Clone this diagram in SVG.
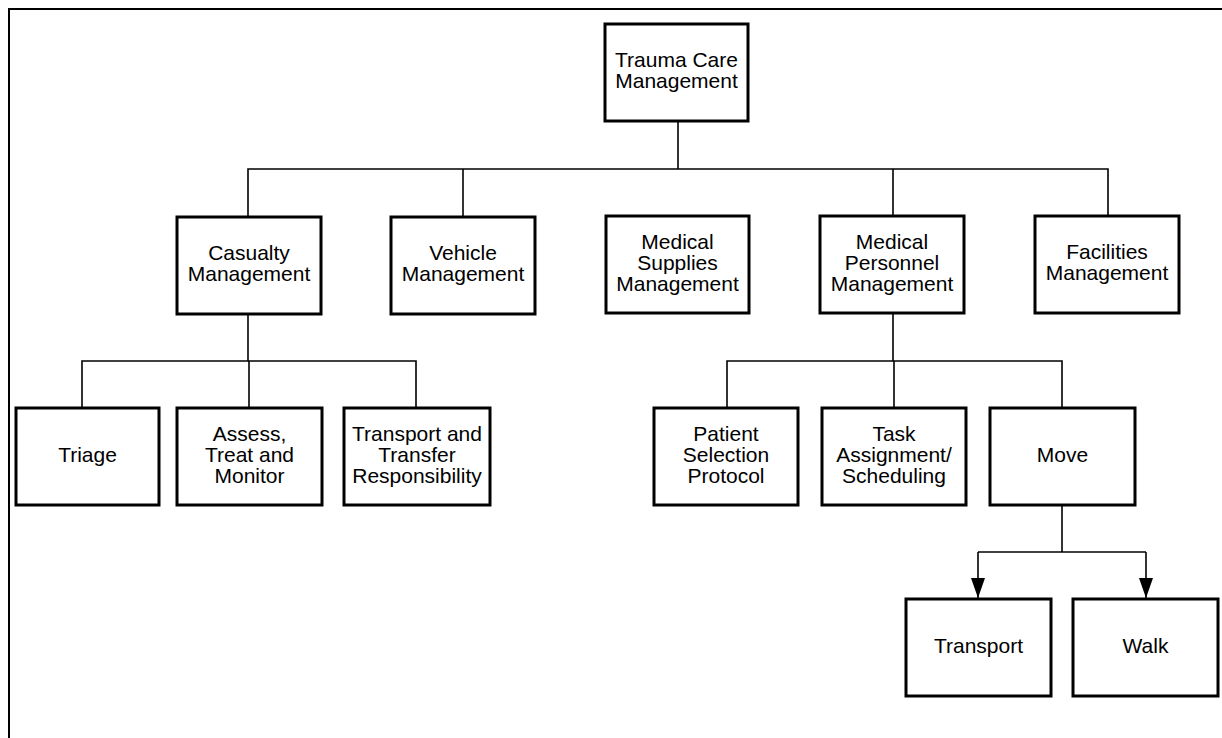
<svg xmlns="http://www.w3.org/2000/svg" width="1222" height="738" viewBox="0 0 1222 738">
<style>
.frame{fill:none;stroke:#000;stroke-width:2}
.box{fill:#fff;stroke:#000;stroke-width:3}
.conn{fill:none;stroke:#000;stroke-width:1.6}
text{font-family:"Liberation Sans",Arial,Helvetica,sans-serif;font-size:21px;fill:#000;text-anchor:middle}
</style>
<defs>
<marker id="ah" viewBox="0 0 20 14" refX="20" refY="7" markerWidth="20" markerHeight="14" orient="auto" markerUnits="userSpaceOnUse">
<path d="M0,0 L20,7 L0,14 Z" fill="#000"/>
</marker>
</defs>
<rect width="1222" height="738" fill="#fff"/>
<path class="frame" d="M9,738 V9 H1222"/>
<g id="connectors">
<path class="conn" d="M678,121 V169"/>
<path class="conn" d="M248,217 V169 H1108 V216"/>
<path class="conn" d="M463,169 V217"/>
<path class="conn" d="M893,169 V217"/>
<path class="conn" d="M248,314 V361"/>
<path class="conn" d="M82,408 V361 H416 V408"/>
<path class="conn" d="M249,361 V408"/>
<path class="conn" d="M893,313 V361"/>
<path class="conn" d="M727,408 V361 H1062 V408"/>
<path class="conn" d="M894,361 V408"/>
<path class="conn" d="M1062,505 V552"/>
<path class="conn" d="M978,552 H1146"/>
<path class="conn" d="M978,552 V598" marker-end="url(#ah)"/>
<path class="conn" d="M1146,552 V598" marker-end="url(#ah)"/>
</g>
<g id="n-trauma"><rect class="box" x="605" y="24" width="143" height="97"/><text x="676.5" y="67">Trauma Care</text><text x="676.5" y="88">Management</text></g>
<g id="n-casualty"><rect class="box" x="177" y="217" width="144" height="97"/><text x="249" y="260">Casualty</text><text x="249" y="281">Management</text></g>
<g id="n-vehicle"><rect class="box" x="391" y="217" width="144" height="97"/><text x="463" y="260">Vehicle</text><text x="463" y="281">Management</text></g>
<g id="n-supplies"><rect class="box" x="606" y="216" width="143" height="97"/><text x="677.5" y="249">Medical</text><text x="677.5" y="270">Supplies</text><text x="677.5" y="291">Management</text></g>
<g id="n-personnel"><rect class="box" x="820" y="216" width="144" height="97"/><text x="892" y="249">Medical</text><text x="892" y="270">Personnel</text><text x="892" y="291">Management</text></g>
<g id="n-facilities"><rect class="box" x="1035" y="216" width="144" height="97"/><text x="1107" y="259">Facilities</text><text x="1107" y="280">Management</text></g>
<g id="n-triage"><rect class="box" x="16" y="408" width="143" height="97"/><text x="87.5" y="462">Triage</text></g>
<g id="n-assess"><rect class="box" x="177" y="408" width="145" height="97"/><text x="249.5" y="441">Assess,</text><text x="249.5" y="462">Treat and</text><text x="249.5" y="483">Monitor</text></g>
<g id="n-transfer"><rect class="box" x="344" y="408" width="146" height="97"/><text x="417" y="441">Transport and</text><text x="417" y="462">Transfer</text><text x="417" y="483">Responsibility</text></g>
<g id="n-patient"><rect class="box" x="654" y="408" width="144" height="97"/><text x="726" y="441">Patient</text><text x="726" y="462">Selection</text><text x="726" y="483">Protocol</text></g>
<g id="n-task"><rect class="box" x="822" y="408" width="144" height="97"/><text x="894" y="441">Task</text><text x="894" y="462">Assignment/</text><text x="894" y="483">Scheduling</text></g>
<g id="n-move"><rect class="box" x="990" y="408" width="145" height="97"/><text x="1062.5" y="462">Move</text></g>
<g id="n-transport"><rect class="box" x="906" y="599" width="145" height="97"/><text x="978.5" y="653">Transport</text></g>
<g id="n-walk"><rect class="box" x="1073" y="599" width="145" height="97"/><text x="1145.5" y="653">Walk</text></g>
</svg>
